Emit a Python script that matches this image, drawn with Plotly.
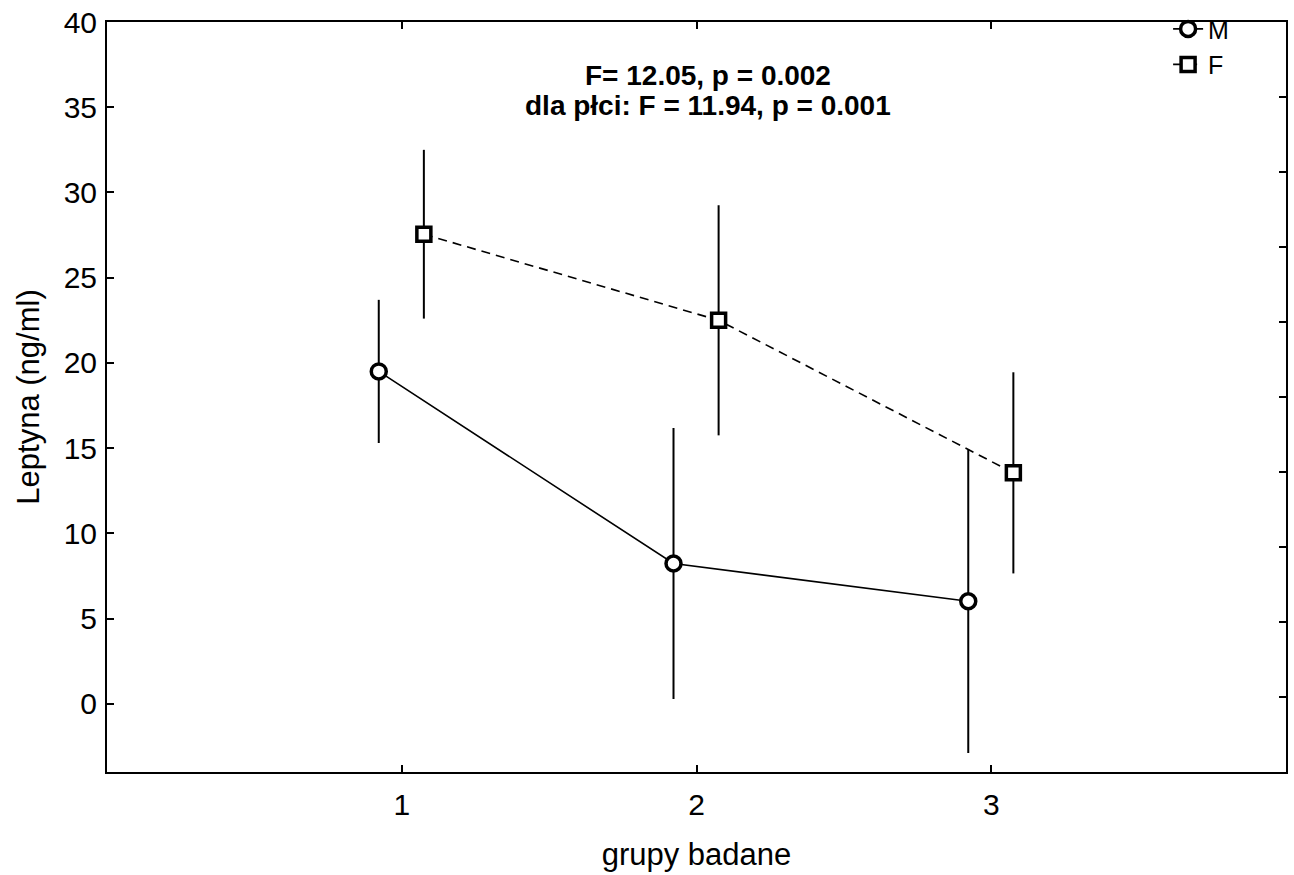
import plotly.graph_objects as go

groups = [1, 2, 3]
m_mean = [19.5, 8.23, 6.02]
m_err = [4.2, 7.95, 8.9]
f_mean = [27.55, 22.5, 13.55]
f_err = [4.95, 6.75, 5.9]
m_offset = -0.078
f_offset = 0.075

FONT = "Arial, Liberation Sans, sans-serif"

fig = go.Figure()
fig.add_trace(go.Scatter(
    x=[g + m_offset for g in groups], y=m_mean, name="M",
    mode="lines+markers",
    line=dict(color="black", width=1.6),
    marker=dict(symbol="circle", size=15, color="white", line=dict(color="black", width=3.5)),
    error_y=dict(type="data", array=m_err, visible=True, color="black", thickness=2, width=0),
))
fig.add_trace(go.Scatter(
    x=[g + f_offset for g in groups], y=f_mean, name="F",
    mode="lines+markers",
    line=dict(color="black", width=1.6, dash="9px,6px"),
    marker=dict(symbol="square", size=14, color="white", line=dict(color="black", width=3.5)),
    error_y=dict(type="data", array=f_err, visible=True, color="black", thickness=2, width=0),
))
fig.add_trace(go.Scatter(x=[None], y=[None], yaxis="y2", showlegend=False, hoverinfo="skip"))

fig.update_layout(
    width=1294, height=875,
    margin=dict(l=107, r=8, t=22, b=103, autoexpand=False),
    paper_bgcolor="white", plot_bgcolor="white",
    font=dict(family=FONT, size=29, color="black"),
    showlegend=True,
    legend=dict(x=0.900, y=0.993, xref="paper", yref="container",
                xanchor="left", yanchor="top",
                bgcolor="rgba(0,0,0,0)", font=dict(size=25),
                tracegroupgap=0),
    xaxis=dict(range=[0, 4], tickvals=groups, ticktext=[str(g) for g in groups],
               ticks="inside", ticklen=7, tickwidth=2, tickcolor="black",
               showline=True, linecolor="black", linewidth=2, mirror="ticks",
               showgrid=False, zeroline=False, tickfont=dict(size=30),
               ticklabelstandoff=5,
               title=dict(text="grupy badane", font=dict(size=31), standoff=23)),
    yaxis=dict(range=[-4, 40], tickvals=[0, 5, 10, 15, 20, 25, 30, 35, 40],
               ticks="inside", ticklen=7, tickwidth=2, tickcolor="black",
               showline=True, linecolor="black", linewidth=2, mirror=True,
               showgrid=False, zeroline=False, tickfont=dict(size=30),
               ticklabelstandoff=2,
               title=dict(text="Leptyna (ng/ml)", font=dict(size=31), standoff=15)),
    yaxis2=dict(range=[0, 10], dtick=1, overlaying="y", side="right",
                ticks="inside", ticklen=7, tickwidth=2, tickcolor="black",
                showticklabels=False, showgrid=False, zeroline=False, showline=False),
    annotations=[
        dict(text="<b>F= 12.05, p = 0.002</b>",
             xref="x", yref="paper", x=2.04, y=0.929, xanchor="center", yanchor="middle",
             showarrow=False, font=dict(size=28, family=FONT, color="black")),
        dict(text="<b>dla płci: F = 11.94, p = 0.001</b>",
             xref="x", yref="paper", x=2.04, y=0.888, xanchor="center", yanchor="middle",
             showarrow=False, font=dict(size=28, family=FONT, color="black")),
    ],
)

fig.write_html("out.html")
